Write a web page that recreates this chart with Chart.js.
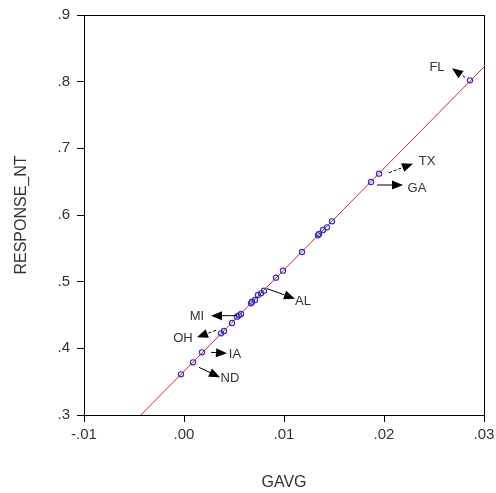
<!DOCTYPE html>
<html>
<head>
<meta charset="utf-8">
<script src="https://cdn.jsdelivr.net/npm/chart.js@4.4.1/dist/chart.umd.min.js"></script>
<style>
  html, body { margin: 0; padding: 0; background: #fff; }
  #wrap { width: 496px; height: 493px; }
</style>
</head>
<body>
<div id="wrap"><canvas id="scatterChart"></canvas></div>
<script>
// values
var gavg = [-0.0003, 0.0009, 0.0018, 0.0037, 0.0040, 0.0048, 0.0053, 0.0055, 0.0057,
            0.0067, 0.0068, 0.0071, 0.0074, 0.0077, 0.0080, 0.0092, 0.0099, 0.0118,
            0.0134, 0.0135, 0.0139, 0.0143, 0.0148, 0.0187, 0.0195, 0.0286];
var responseNt = [0.361, 0.379, 0.394, 0.4225, 0.426, 0.438, 0.4475, 0.4495, 0.4515,
                  0.4675, 0.470, 0.4725, 0.480, 0.4825, 0.4865, 0.506, 0.5165, 0.5445,
                  0.5695, 0.5715, 0.5775, 0.5815, 0.5905, 0.6495, 0.662, 0.802];
var labeledStates = ["ND", "IA", "OH", "MI", "AL", "GA", "TX", "FL"];
var labeledIndex  = [1, 2, 3, 6, 14, 23, 24, 25];

var xTicks = [-0.01, 0.00, 0.01, 0.02, 0.03];
var yTicks = [0.3, 0.4, 0.5, 0.6, 0.7, 0.8, 0.9];

// least squares line through the points
var n = gavg.length, sx = 0, sy = 0, sxx = 0, sxy = 0;
for (var i = 0; i < n; i++) {
  sx += gavg[i]; sy += responseNt[i];
  sxx += gavg[i] * gavg[i]; sxy += gavg[i] * responseNt[i];
}
var slope = (n * sxy - sx * sy) / (n * sxx - sx * sx);
var icept = (sy - slope * sx) / n;
var xStart = (yTicks[0] - icept) / slope;
var xEnd = xTicks[xTicks.length - 1];
var fitLine = [
  { x: xStart, y: icept + slope * xStart },
  { x: xEnd, y: icept + slope * xEnd }
];

var points = gavg.map(function (g, i) { return { x: g, y: responseNt[i] }; });

// arrow / label placement, pixel offsets from the point
var callouts = {
  ND: { tail: [6, 5],  tip: [27, 15],  text: [37, 16],  dash: false },
  IA: { tail: [9, 0],  tip: [25, 1],   text: [33, 2],   dash: false },
  OH: { tail: [-5, -3], tip: [-24, 4], text: [-38, 5],  dash: true },
  MI: { tail: [0, -1], tip: [-26, -1], text: [-40, 0],  dash: false },
  AL: { tail: [3, -2], tip: [31, 8],   text: [39, 11],  dash: false },
  GA: { tail: [6, 3],  tip: [32, 3],   text: [46, 6],   dash: false },
  TX: { tail: [10, -1], tip: [34, -10], text: [48, -12], dash: true },
  FL: { tail: [-5, -3], tip: [-18, -12], text: [-33, -13], dash: true }
};

var fmt = function (v, digits) {
  return Number(v).toFixed(digits).replace("0.", ".");
};

var frame = {
  id: "frame",
  afterDraw: function (chart) {
    var a = chart.chartArea, ctx = chart.ctx;
    ctx.save();
    ctx.strokeStyle = "#000";
    ctx.lineWidth = 1;
    ctx.strokeRect(Math.round(a.left) + 0.5, Math.round(a.top) + 0.5,
                   Math.round(a.right - a.left), Math.round(a.bottom - a.top));
    ctx.restore();
  }
};

var arrows = {
  id: "arrows",
  afterDatasetsDraw: function (chart) {
    var ctx = chart.ctx, xs = chart.scales.x, ys = chart.scales.y;
    ctx.save();
    ctx.font = "13px 'Liberation Sans', Arial, sans-serif";
    ctx.textAlign = "center";
    ctx.textBaseline = "middle";
    labeledStates.forEach(function (st, k) {
      var c = callouts[st];
      var idx = labeledIndex[k];
      var px = xs.getPixelForValue(gavg[idx]);
      var py = ys.getPixelForValue(responseNt[idx]);
      var tx = px + c.tail[0], ty = py + c.tail[1];
      var hx = px + c.tip[0], hy = py + c.tip[1];
      var ang = Math.atan2(hy - ty, hx - tx);
      var len = 11, half = 4.5;
      var bx = hx - len * Math.cos(ang), by = hy - len * Math.sin(ang);
      ctx.strokeStyle = "#000";
      ctx.lineWidth = 1;
      ctx.setLineDash(c.dash ? [3, 2] : []);
      ctx.beginPath();
      ctx.moveTo(tx, ty);
      ctx.lineTo(bx, by);
      ctx.stroke();
      ctx.setLineDash([]);
      ctx.fillStyle = "#000";
      ctx.beginPath();
      ctx.moveTo(hx, hy);
      ctx.lineTo(bx + half * Math.sin(ang), by - half * Math.cos(ang));
      ctx.lineTo(bx - half * Math.sin(ang), by + half * Math.cos(ang));
      ctx.closePath();
      ctx.fill();
      ctx.fillStyle = "#333";
      ctx.fillText(st, px + c.text[0], py + c.text[1]);
    });
    ctx.restore();
  }
};

Chart.defaults.font.family = "'Liberation Sans', Arial, sans-serif";
Chart.defaults.color = "#333";

new Chart("scatterChart", {
  type: "scatter",
  data: {
    datasets: [
      {
        data: points,
        pointRadius: 2.6,
        pointBorderWidth: 1.2,
        pointBorderColor: "#3a2fc0",
        pointBackgroundColor: "rgba(255,255,255,0)",
        showLine: false
      },
      {
        data: fitLine,
        showLine: true,
        borderColor: "#cc2a2a",
        borderWidth: 1,
        pointRadius: 0
      }
    ]
  },
  options: {
    responsive: true,
    maintainAspectRatio: false,
    animation: false,
    layout: { padding: { left: 0, top: 15, right: 12, bottom: 0 } },
    plugins: { legend: { display: false }, tooltip: { enabled: false } },
    scales: {
      x: {
        type: "linear",
        min: xTicks[0],
        max: xTicks[xTicks.length - 1],
        afterBuildTicks: function (s) { s.ticks = xTicks.map(function (v) { return { value: v }; }); },
        afterFit: function (s) { s.height = 78; s.paddingLeft = 0; s.paddingRight = 0; },
        ticks: {
          padding: 4,
          font: { size: 15 },
          color: "#333",
          maxRotation: 0,
          callback: function (v) { return fmt(v, 2); }
        },
        grid: { drawOnChartArea: false, drawTicks: true, tickLength: 7, tickColor: "#000" },
        border: { display: true, color: "#000" },
        title: { display: true, text: "GAVG", font: { size: 16 }, color: "#333", padding: { top: 0, bottom: 1 } }
      },
      y: {
        type: "linear",
        min: yTicks[0],
        max: yTicks[yTicks.length - 1],
        afterBuildTicks: function (s) { s.ticks = yTicks.map(function (v) { return { value: v }; }); },
        afterFit: function (s) { s.width = 84; s.paddingTop = 0; s.paddingBottom = 0; },
        ticks: {
          padding: 7,
          font: { size: 15 },
          color: "#333",
          callback: function (v) { return fmt(v, 1); }
        },
        grid: { drawOnChartArea: false, drawTicks: true, tickLength: 7, tickColor: "#000" },
        border: { display: true, color: "#000" },
        title: { display: true, text: "RESPONSE_NT", font: { size: 16 }, color: "#333", padding: { top: 12, bottom: 0 } }
      }
    }
  },
  plugins: [frame, arrows]
});
</script>
</body>
</html>
